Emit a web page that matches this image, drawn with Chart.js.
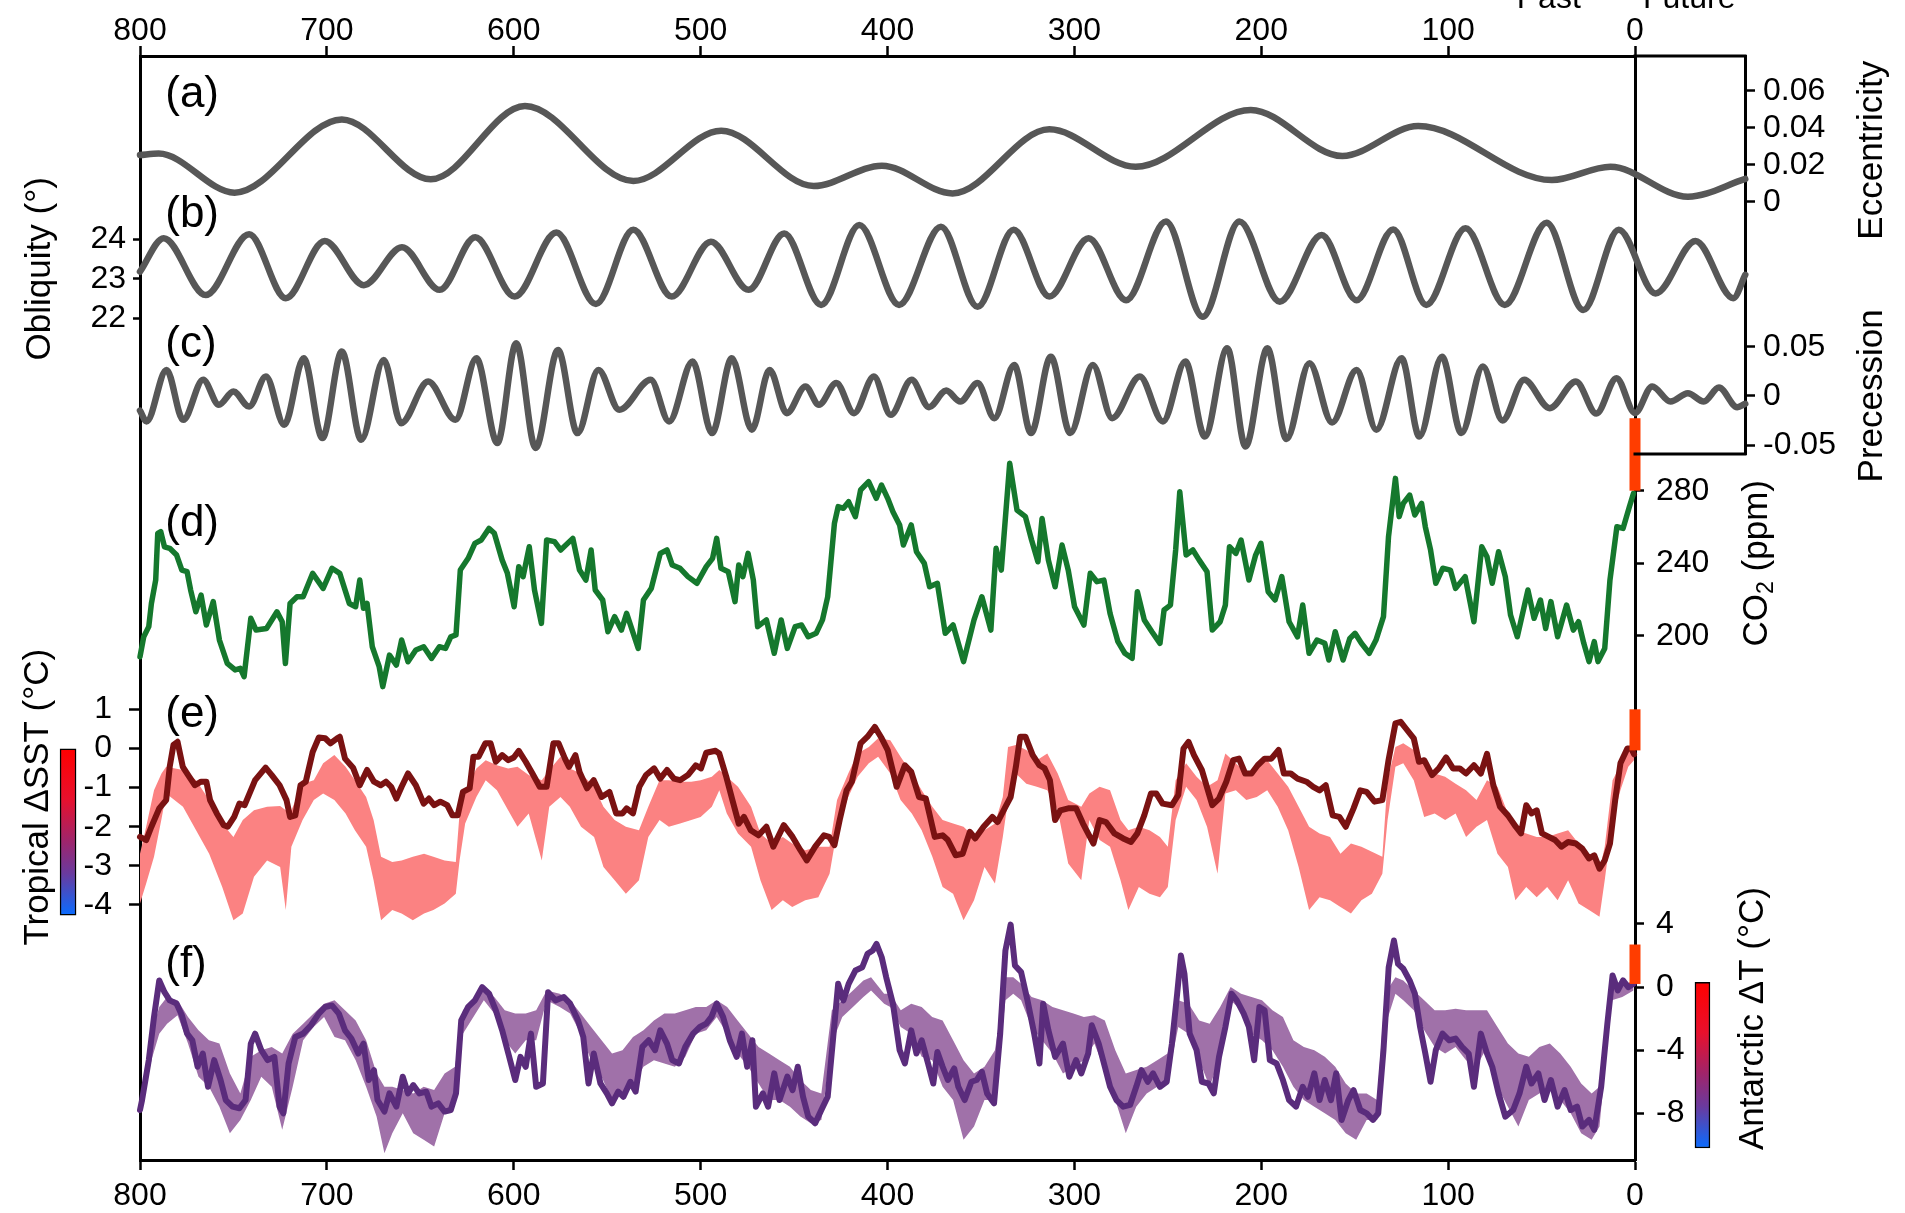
<!DOCTYPE html>
<html>
<head>
<meta charset="utf-8">
<script src="https://cdn.jsdelivr.net/npm/chart.js@4/dist/chart.umd.min.js"></script>
<style>
  html, body { margin: 0; padding: 0; background: #fff; }
  #wrap { width: 1905px; height: 1213px; }
</style>
</head>
<body>
<div id="wrap"><canvas id="chart" width="1905" height="1213"></canvas></div>
<script>
// ---- data (kyr before present, value) ----
const yearTicks = [800, 700, 600, 500, 400, 300, 200, 100, 0];
const eccTicks = [0.06, 0.04, 0.02, 0];
const oblTicks = [24, 23, 22];
const precTicks = [0.05, 0, -0.05];
const co2Ticks = [280, 240, 200];
const sstTicks = [1, 0, -1, -2, -3, -4];
const antTicks = [4, 0, -4, -8];

const eccSeries = [[800,0.0252],[790,0.026],[749.4,0.0049],[692,0.0445],[644.4,0.0121],[594,0.0517],[536,0.0112],[489,0.0384],[439.5,0.0085],[403,0.0195],[365.2,0.0045],[313.4,0.0391],[267.2,0.0189],[205.6,0.0496],[156.6,0.0247],[116,0.0409],[44.5,0.0117],[13.1,0.0189],[-28.3,0.0027],[-59,0.0123]];

const oblSeries = [[800,23.18],[787.3,24.03],[764.8,22.59],[741.6,24.13],[722,22.51],[701.2,23.96],[680.2,22.84],[659.8,23.8],[639.6,22.72],[620.6,24.05],[599.5,22.55],[577.2,24.17],[556.1,22.36],[536,24.24],[515.5,22.55],[494.5,23.94],[474.3,22.72],[455.3,24.15],[435.5,22.34],[415.1,24.36],[393.8,22.34],[371.4,24.32],[351.8,22.29],[332.5,24.24],[313.4,22.55],[292.4,24.03],[272.3,22.46],[251,24.45],[231.3,22.04],[211.7,24.45],[190.1,22.42],[167.7,24.11],[149,22.46],[129.4,24.25],[111.7,22.34],[90.7,24.28],[69.7,22.34],[47.3,24.42],[27.7,22.21],[8.7,24.24],[-11,22.63],[-32.4,23.96],[-52.6,22.51],[-59,23.1]];

const precSeries = [[800,-0.015],[796.5,-0.026],[785.8,0.0264],[776.9,-0.0244],[766.2,0.0163],[757.8,-0.0091],[750,0.0044],[741.6,-0.0109],[732.6,0.0196],[722.8,-0.0295],[712.4,0.0383],[702.4,-0.043],[692,0.045],[681.6,-0.0447],[669.6,0.0366],[660.3,-0.0278],[645.8,0.0146],[631.2,-0.0244],[620,0.0383],[608.8,-0.048],[598.7,0.0535],[588.3,-0.053],[576.3,0.0467],[565.9,-0.0379],[554.7,0.0264],[543.5,-0.0142],[526.7,0.0163],[516.9,-0.026],[504.3,0.0349],[493.9,-0.0379],[483.3,0.0383],[472.6,-0.0345],[463.1,0.0264],[453.9,-0.0176],[443.9,0.0095],[436.7,-0.0091],[427.4,0.013],[417.9,-0.0176],[407.3,0.0196],[398.3,-0.0193],[387.1,0.0163],[377.8,-0.0115],[368.6,0.0054],[361,-0.0058],[351.8,0.013],[342.8,-0.0227],[332.2,0.0315],[323.2,-0.0379],[312.6,0.0399],[302.2,-0.0379],[290.1,0.0315],[279.8,-0.0227],[265,0.0196],[252.6,-0.026],[240.6,0.0349],[230.2,-0.0413],[218.2,0.0484],[208.4,-0.0515],[196.7,0.0484],[186.5,-0.044],[174.2,0.0332],[162.1,-0.0271],[149,0.0264],[138.4,-0.0345],[124.9,0.0383],[115.4,-0.0413],[103.3,0.0399],[92.9,-0.0379],[81.4,0.0298],[70.9,-0.025],[59.3,0.0163],[45.6,-0.0125],[31.6,0.0146],[20.7,-0.018],[9.9,0.018],[0,-0.0176],[-9.2,0.0095],[-19,-0.0058],[-28.3,0.0027],[-36.8,-0.0058],[-44.9,0.0084],[-54.7,-0.0115],[-59,-0.0081]];

const co2Series = [[800,188.4],[798,199.4],[795.3,205],[793.9,217.8],[791.6,230.7],[790.5,256.5],[788.9,257.4],[786.9,249],[784.1,248.2],[780.4,244.5],[777.6,236.2],[774.8,235.3],[772.9,225.2],[770.1,213.2],[767.3,222.4],[764.5,205.9],[760.8,218.8],[757.5,197.6],[753.3,184.7],[749.1,181.1],[746.3,182],[744.3,177.4],[740.7,209.6],[737.9,203.1],[732.3,204],[726.7,213.2],[723.9,207.7],[722.2,184.7],[719.7,217.8],[716,221.5],[712.7,221.5],[707.6,234.4],[702,226.1],[697.3,237.2],[693.1,234.4],[688,217.8],[684.6,216],[682.4,230.7],[680.4,215.1],[678.5,217.8],[675.7,193.9],[672,182.9],[670.1,171.9],[666.5,189.3],[662.8,183.8],[660,197.6],[656.6,185.6],[652.4,192.1],[648.2,193.9],[644,187.5],[639.8,193.9],[636.5,193],[633.7,199.4],[630.9,200.4],[628.6,236.2],[624.4,242.7],[620.8,250.9],[617.4,252.8],[613.2,259.2],[610.4,256.5],[606.2,241.7],[603.4,234.4],[599.8,216],[597.3,238.1],[595,232.6],[591.7,249.1],[588.9,225.2],[585.2,206.8],[582.4,252.8],[578.2,251.9],[574.9,247.3],[568.4,253.7],[564.8,236.2],[561.4,230.7],[558.6,247.3],[556.4,225.2],[552.4,219.7],[549.6,202.2],[546,210.5],[542.4,203.1],[539.6,212.3],[533.4,193],[530.6,219.7],[526.4,226.1],[521.6,245.4],[518,247.3],[515.2,239],[511,237.2],[506.8,232.6],[502,228.9],[497,238.1],[493.6,242.7],[491.4,253.7],[489.1,237.2],[485.2,235.3],[481.6,218.8],[479.6,239],[477.4,232.6],[474.6,245.4],[471.8,230.7],[469.5,205],[464.8,208.7],[460.6,190.3],[456.9,208.7],[453.6,193],[449.4,205],[446,205.9],[442.4,199.4],[438.2,201.3],[434.8,208.7],[432,221.5],[428.4,262],[426.4,271.2],[423.6,270.3],[420.8,273.9],[417.2,265.7],[414.4,280.4],[410.1,285],[406,275.8],[403.2,283.1],[399.9,275.8],[397.1,268.4],[393.5,261.1],[391.5,250],[387.3,261.1],[384.5,246.3],[380.3,239.9],[377.5,227],[373.3,228.9],[369.1,201.3],[364.9,205.9],[359.3,185.7],[353.7,208.7],[349.5,221.5],[344.7,203.1],[341.9,248.2],[339.1,236.2],[334.6,295.1],[330.7,269.3],[326.2,265.7],[322.9,252.8],[319.5,240.8],[317.3,264.7],[313.9,241.7],[310.3,227],[306.6,250],[303.3,236.2],[299.9,216],[294.9,205.9],[291.5,234.4],[287.9,229.8],[284.2,230.7],[280.9,212.3],[276.7,196.7],[273,190.3],[269.1,187.5],[266.3,224.3],[262.6,208.7],[258.5,202.2],[254.2,195.8],[252,214.2],[248.6,216.9],[245.8,247.3],[243.6,279.4],[240.2,244.5],[236.6,247.3],[233.2,241.7],[229,235.3],[226.2,203.1],[222,207.7],[219.2,216.9],[217,249.1],[213.6,245.4],[210.8,252.8],[206.6,230.7],[203,244.5],[200.2,251],[196.3,224.3],[192.6,219.7],[189,232.6],[185.1,207.7],[180.6,199.4],[177.8,216.9],[174.4,190.3],[170.2,197.6],[166,195.8],[163.8,186.6],[160.4,202.2],[156.2,186.6],[152.6,198.5],[149.8,201.3],[146.4,195.8],[142.2,190.3],[138.6,197.6],[134.6,210.5],[131.9,254.6],[128.2,286.8],[126.2,265.7],[124,273],[120.6,277.6],[117.8,266.6],[114.2,273],[112.2,260.1],[109.4,247.3],[106.6,228.9],[102.9,237.2],[98.8,236.2],[96,226.1],[90.9,232.6],[86.2,207.7],[82,249.1],[79.2,243.6],[76.4,228.9],[73,246.3],[69.4,232.6],[66.6,211.4],[63,199.4],[57.3,225.2],[54,209.6],[50.6,219.7],[47.8,204],[45,218.8],[41.4,199.4],[36.6,216.9],[33,203.1],[30.2,207.7],[27.4,195.8],[24.6,185.7],[21.8,196.7],[19.8,185.7],[16.2,193],[13.4,230.7],[9.7,260.1],[6.4,259.2],[3,271.2],[0.8,278.5]];

const sstSeries = [[800,-2.26],[796.7,-2.34],[793.9,-2.0],[789.7,-1.53],[786,-1.32],[784.1,-0.47],[782.1,0.09],[779.9,0.17],[777.1,-0.47],[773.7,-0.72],[770.6,-0.94],[767.3,-0.85],[764.5,-0.85],[762.5,-1.32],[758.9,-1.66],[755.2,-1.96],[753,-2.0],[749.6,-1.75],[746.8,-1.41],[744,-1.45],[738.4,-0.81],[732.8,-0.49],[729.5,-0.68],[725.3,-0.94],[721.6,-1.32],[719.7,-1.75],[716.9,-1.71],[714.1,-0.94],[711.3,-0.85],[707.6,-0.09],[704.3,0.28],[700.9,0.26],[698.1,0.13],[694.5,0.26],[693.1,0.3],[690.3,-0.26],[686,-0.49],[682.4,-0.94],[678.5,-0.55],[674.8,-0.85],[671.2,-0.94],[668.4,-0.85],[665.6,-0.98],[662.8,-1.28],[660,-0.98],[656.6,-0.64],[652.4,-0.94],[648.2,-1.41],[645.4,-1.28],[642.6,-1.45],[639.3,-1.36],[635.6,-1.45],[632.8,-1.71],[630,-1.71],[627.2,-1.11],[623.6,-1.02],[621.6,-0.21],[618.8,-0.21],[615.2,0.13],[612.4,0.13],[609.6,-0.34],[606.2,-0.17],[602.9,-0.3],[600,-0.23],[597.3,-0.06],[593.6,-0.34],[590,-0.64],[586.1,-0.98],[582.4,-0.98],[578.8,0.13],[576,0.13],[572.6,-0.26],[570.4,-0.47],[567,-0.17],[564.8,-0.6],[560.8,-1.02],[557.2,-0.81],[553,-1.24],[548.8,-1.11],[545.2,-1.66],[541.8,-1.66],[539.6,-1.53],[536.2,-1.66],[532.8,-0.98],[529.2,-0.68],[524.9,-0.51],[521.6,-0.77],[518,-0.55],[514.3,-0.77],[511,-0.81],[506.8,-0.68],[502.6,-0.43],[499.8,-0.51],[497,-0.11],[492,-0.06],[490,-0.13],[486.3,-0.72],[483,-1.32],[479.6,-1.92],[476.8,-1.75],[473.2,-2.09],[469,-2.22],[464.8,-2.0],[461.1,-2.51],[455.5,-1.96],[450.8,-2.26],[446.6,-2.6],[443.2,-2.86],[438.7,-2.51],[434,-2.22],[431.2,-2.26],[428.4,-2.47],[425.6,-1.83],[421.9,-1.07],[419.1,-0.85],[414.4,0.13],[410.7,0.3],[406.8,0.55],[403.1,0.26],[399.9,-0.04],[395.1,-0.98],[390.7,-0.43],[387.3,-0.6],[383.1,-1.24],[379.5,-1.28],[374.7,-2.26],[370.5,-2.22],[367.7,-2.34],[363.5,-2.73],[359.8,-2.69],[355.9,-2.13],[353.1,-2.3],[348.6,-2.0],[343.9,-1.75],[341.1,-1.88],[336.9,-1.49],[334.1,-1.24],[331.3,-0.47],[329,0.3],[326.2,0.3],[322.3,-0.17],[318.7,-0.43],[315.9,-0.51],[313.1,-0.81],[310.3,-1.83],[307.5,-1.58],[303.3,-1.53],[299.1,-1.53],[295.4,-1.92],[289.8,-2.43],[286.5,-1.83],[283.1,-1.88],[278.6,-2.17],[273.9,-2.3],[269.7,-2.39],[266.3,-2.17],[262.6,-1.71],[259,-1.15],[256.2,-1.15],[252.8,-1.41],[247.8,-1.45],[244.4,-1.19],[241.6,0.0],[238.9,0.17],[236,-0.17],[231.8,-0.55],[226.2,-1.45],[222.6,-1.28],[218.7,-0.85],[215,-0.3],[211.9,-0.26],[208.6,-0.64],[205.2,-0.64],[201.9,-0.43],[198.2,-0.26],[194.6,-0.26],[190.7,-0.04],[187.9,-0.64],[184.2,-0.64],[180.6,-0.77],[175.8,-0.85],[172.2,-0.98],[168.8,-1.07],[165.5,-0.94],[161.8,-1.71],[158.2,-1.75],[154.8,-2.0],[150.6,-1.53],[147,-1.07],[143.6,-1.11],[139.4,-1.36],[135.2,-1.32],[131.9,-0.3],[128.2,0.64],[125.4,0.68],[122.6,0.51],[118.4,0.26],[115.6,-0.34],[112.8,-0.3],[108.6,-0.68],[105,-0.51],[101.1,-0.23],[97.4,-0.51],[93.8,-0.51],[90.4,-0.64],[86.2,-0.43],[82.5,-0.64],[79.2,-0.14],[75.8,-0.94],[72.2,-1.49],[68,-1.71],[63.8,-2.0],[61,-2.17],[58.2,-1.45],[55.4,-1.66],[52.6,-1.58],[49.8,-2.17],[46.1,-2.26],[42.8,-2.34],[39.4,-2.51],[35.8,-2.39],[31.6,-2.43],[28.2,-2.56],[24.6,-2.81],[21.8,-2.73],[19,-3.07],[16.2,-2.86],[13.4,-2.43],[10.6,-1.32],[7.8,-0.38],[4.1,0.0],[2,0.0],[0.5,-0.15]];

// [kyr, upper, lower]
const sstRange = [[800,-2.69,-3.96],[796.7,-2.0,-3.45],[792.5,-1.07,-2.77],[788.5,-0.64,-1.8],[786,-0.47,-1.15],[777,-0.55,-1.49],[770,-0.81,-2.09],[763,-1.32,-2.69],[756,-1.92,-3.54],[750,-2.26,-4.39],[745,-1.83,-4.22],[739,-1.58,-3.28],[732,-1.49,-2.86],[725,-1.47,-3.03],[722,-1.58,-4.13],[719,-1.58,-2.51],[713,-0.9,-1.83],[707,-0.81,-1.32],[702,-0.38,-1.15],[696,-0.17,-1.32],[690,-0.47,-1.66],[685,-0.81,-2.09],[679,-1.24,-2.51],[675,-1.83,-3.37],[671,-2.77,-4.39],[665,-2.9,-4.13],[660,-2.86,-4.22],[654,-2.77,-4.39],[648,-2.69,-4.22],[643,-2.77,-4.13],[637,-2.86,-3.96],[631,-2.9,-3.71],[629,-1.66,-2.86],[626,-1.07,-1.92],[620,-0.51,-1.24],[615,-0.3,-0.81],[609,-0.43,-1.07],[603,-0.51,-1.58],[598,-0.47,-2.0],[592,-0.68,-1.66],[585,-0.81,-2.86],[581,-0.55,-1.49],[575,-0.21,-1.24],[570,-0.51,-1.49],[564,-0.64,-2.0],[557,-0.98,-2.26],[552,-1.49,-3.03],[546,-1.83,-3.37],[540,-2.0,-3.71],[533,-2.09,-3.37],[528,-1.49,-2.26],[522,-0.81,-1.83],[517,-0.81,-2.0],[511,-0.85,-1.92],[505,-0.85,-1.83],[500,-0.81,-1.75],[494,-0.72,-1.49],[490,-0.55,-1.07],[486,-0.72,-1.66],[480,-0.98,-2.17],[473,-1.49,-2.51],[468,-2.17,-3.37],[462,-2.43,-4.13],[456,-2.26,-3.88],[451,-2.43,-4.05],[444,-2.6,-3.88],[437,-2.51,-3.8],[431,-2.51,-3.2],[427,-1.32,-2.09],[421,-0.64,-1.24],[416,-0.13,-0.72],[410,0.04,-0.38],[405,0.26,-0.21],[398.5,0.21,-0.64],[393,-0.21,-1.32],[387,-0.64,-1.66],[381.7,-1.07,-2.09],[376,-1.49,-2.77],[370.5,-1.83,-3.54],[364.9,-1.92,-3.71],[359.3,-2.0,-4.39],[353.7,-2.26,-3.88],[348.1,-2.09,-3.03],[342.5,-1.92,-3.45],[338.3,-1.24,-2.26],[335.5,0.04,-1.32],[331.3,0.09,-0.64],[325.7,-0.04,-0.9],[320.1,-0.3,-0.98],[314.5,-0.13,-1.07],[308.9,-0.64,-1.58],[303.3,-1.32,-2.94],[296.3,-1.49,-3.37],[292,-1.15,-1.83],[286.5,-0.98,-2.34],[280.9,-1.07,-2.51],[275.3,-1.83,-3.37],[271.1,-2.09,-4.13],[265.5,-2.0,-3.54],[259.8,-2.09,-3.71],[254.2,-2.26,-3.8],[250,-2.51,-3.54],[245.8,-0.81,-1.83],[240.2,-0.38,-0.98],[234.6,-0.72,-1.32],[229,-0.98,-2.0],[223.4,-0.81,-3.2],[219.2,-0.13,-1.15],[213.6,-0.38,-1.07],[208,-0.64,-1.32],[202.4,-0.47,-1.24],[196.8,-0.3,-1.07],[191.2,-0.64,-1.49],[185.6,-0.98,-2.09],[180,-1.49,-3.03],[174.4,-2.0,-4.13],[168.8,-2.17,-3.8],[163.2,-2.26,-3.88],[157.6,-2.69,-4.05],[152,-2.43,-4.22],[146.4,-2.51,-3.88],[140.8,-2.64,-3.71],[135.2,-2.77,-3.2],[132.4,-0.81,-1.83],[128.2,0.04,-0.47],[124,0.13,-0.38],[118.4,-0.04,-0.81],[112.8,-0.38,-1.75],[107.2,-0.64,-1.66],[101.6,-0.72,-1.83],[96,-0.9,-1.66],[90.4,-1.07,-2.26],[84.8,-1.32,-2.0],[79.2,-0.81,-1.83],[73.6,-0.98,-2.69],[68,-1.66,-3.03],[64,-2.09,-3.88],[58.2,-2.17,-3.54],[52.6,-2.26,-3.8],[47,-2.26,-3.54],[41.4,-2.17,-3.88],[35.8,-2.09,-3.37],[30.2,-2.43,-3.96],[24.6,-2.69,-4.13],[19,-3.11,-4.3],[16.2,-2.51,-3.37],[12,-0.81,-1.83],[7.8,-0.43,-1.07],[3.6,0,-0.47],[0.5,0.05,-0.3]];

const antSeries = [[800,-7.79],[798.9,-7.16],[795.3,-4.63],[792.5,-1.89],[789.7,0.42],[786.9,-0.32],[784.1,-0.84],[780.4,-1.05],[777.6,-1.79],[774.8,-2.95],[772,-3.37],[769.2,-5.05],[766.4,-4.21],[763.6,-6.32],[760.3,-4.63],[756.9,-5.89],[754.1,-7.16],[750.5,-7.58],[746.8,-7.68],[743.5,-7.16],[740.7,-3.58],[738.4,-2.95],[735.1,-4.0],[731.7,-4.63],[728.1,-4.42],[725.3,-7.58],[723.3,-8.0],[720.5,-4.84],[716.9,-3.16],[712.7,-2.95],[708.5,-2.42],[704.3,-1.68],[700.9,-1.26],[697.3,-1.16],[693.6,-1.68],[690.3,-2.74],[686.9,-3.26],[683.2,-4.21],[680.4,-3.58],[677.6,-5.89],[674.8,-5.26],[672.9,-7.16],[669.2,-7.89],[666.5,-6.74],[662.8,-7.58],[659.4,-5.68],[656.6,-6.74],[653.8,-6.21],[650.5,-6.74],[646.8,-6.63],[644,-7.58],[640.4,-7.37],[637,-7.89],[633.7,-7.79],[630.9,-6.74],[628.1,-2.11],[624.4,-1.26],[620.8,-0.84],[616.9,0.0],[613.2,-0.42],[609.6,-1.47],[606.2,-2.74],[602.9,-4.21],[599.2,-5.89],[596.4,-4.42],[593.6,-5.05],[590.8,-2.95],[588,-6.32],[584.4,-6.11],[581.6,-0.32],[577.7,-0.84],[573.2,-0.63],[569.8,-1.05],[565.6,-2.11],[562.8,-3.16],[560,-6.11],[557.2,-4.21],[553.6,-6.11],[550.2,-6.74],[547.4,-7.37],[544.1,-6.63],[541.3,-6.95],[537.6,-6.0],[534.8,-6.63],[531.2,-3.79],[527.8,-3.37],[524.4,-4.0],[521.6,-2.74],[518,-3.58],[515.2,-4.63],[511.6,-4.84],[508.2,-3.79],[504,-2.95],[500.4,-2.53],[497,-2.32],[494.2,-1.89],[491.4,-1.05],[488,-1.89],[484.4,-3.37],[480.7,-4.42],[477.9,-2.95],[475.1,-5.05],[472.3,-3.37],[470.4,-7.58],[466.7,-6.74],[463.9,-7.58],[460.6,-5.47],[457.8,-7.16],[453.6,-5.68],[450.8,-6.53],[448,-5.05],[445.2,-6.95],[442.4,-8.21],[438.7,-8.63],[435.4,-7.79],[432,-6.95],[429.2,-3.37],[426.4,0.21],[423.6,-0.84],[420.8,0.21],[417.2,1.05],[413.5,1.26],[410.7,2.11],[407.9,2.32],[405.9,2.74],[403.1,1.89],[400.7,0.63],[397.1,-1.05],[393.5,-4.0],[390.7,-4.84],[387.3,-2.74],[384.5,-4.21],[381.7,-3.37],[378.3,-4.84],[375.5,-6.11],[373.3,-4.11],[370.5,-5.05],[367.7,-5.89],[364.3,-5.16],[362.1,-6.32],[358.7,-7.16],[355.1,-6.0],[352.3,-5.89],[349.5,-5.37],[346.7,-6.74],[343,-7.37],[339.7,-2.95],[336.9,2.32],[334.1,3.96],[331.8,1.37],[328.5,0.95],[325.1,-0.84],[321.5,-2.95],[318.7,-4.84],[316.7,-1.05],[313.9,-2.74],[310.3,-4.42],[306.1,-3.58],[302.7,-5.68],[299.1,-4.63],[296.3,-5.47],[292.6,-4.21],[290.7,-2.42],[287,-3.58],[283.7,-5.05],[280.9,-6.32],[277.5,-7.16],[273.9,-7.58],[270.2,-7.47],[266.9,-6.32],[264.1,-5.26],[260.7,-6.0],[257.9,-5.47],[254.2,-6.32],[250.6,-6.0],[247.8,-3.58],[245,-0.42],[243,2.0],[241.1,0.84],[238.3,-2.95],[234.6,-4.0],[231.8,-6.0],[228.2,-6.11],[225.4,-6.74],[222.6,-4.42],[219.2,-2.53],[215.9,-0.42],[213.1,-0.84],[209.4,-1.68],[206.6,-2.53],[203.8,-4.63],[201,-1.26],[198.2,-1.47],[195.4,-4.63],[191.8,-4.84],[188.4,-5.89],[185.1,-7.16],[181.4,-7.58],[177.8,-6.32],[175,-6.95],[171.6,-5.47],[168.8,-7.16],[166,-5.89],[162.7,-7.16],[159.9,-5.47],[157,-8.42],[153.4,-7.16],[150.6,-6.53],[147,-7.79],[143.6,-8.0],[140.2,-8.42],[137.4,-8.0],[134.6,-4.0],[131.8,1.26],[129,2.95],[126.8,1.47],[124,1.16],[120.6,0.42],[117.8,-0.42],[115,-2.53],[112.2,-4.21],[109.4,-6.0],[106.6,-4.0],[103,-2.95],[99.4,-3.37],[96,-3.26],[92.6,-3.79],[89,-4.21],[86.2,-6.32],[82.5,-2.95],[79.2,-4.21],[76.4,-5.05],[73,-6.74],[69.4,-8.21],[65.2,-7.79],[61.8,-6.74],[58.2,-5.05],[55.4,-6.11],[51.7,-5.47],[48.4,-7.16],[45,-5.89],[41.4,-7.58],[37.7,-6.53],[34.4,-7.79],[31,-7.58],[28.2,-8.84],[24.6,-8.42],[21.8,-9.05],[18.1,-6.32],[14.8,-2.32],[12,0.74],[9.2,-0.21],[6.4,0.42],[3.6,0.0],[0.8,0.21]];

// [kyr, upper, lower]
const antRange = [[799.5,-7.16,-8.0],[793.9,-2.95,-4.63],[789.7,-1.26,-2.95],[785.5,-0.63,-2.32],[779.9,-0.84,-1.79],[774.3,-1.89,-3.58],[768.7,-2.74,-5.68],[763.1,-3.37,-6.32],[757.5,-3.58,-7.58],[751.9,-5.47,-9.26],[746.3,-6.74,-8.42],[740.7,-4.42,-7.16],[735.1,-4.0,-5.68],[729.5,-3.79,-6.32],[723.9,-4.21,-9.05],[718.3,-2.95,-6.32],[712.7,-2.32,-3.37],[707.1,-1.68,-2.53],[701.5,-1.05,-1.89],[695.9,-0.84,-3.16],[690.3,-1.47,-3.37],[684.6,-2.11,-4.63],[679,-3.37,-6.32],[673.4,-5.47,-8.21],[669.2,-6.32,-10.53],[665,-6.32,-9.26],[659.4,-6.53,-8.0],[653.8,-6.74,-9.26],[648.2,-6.32,-9.68],[642.6,-6.53,-10.1],[637,-5.47,-8.0],[631.4,-5.05,-7.16],[627.2,-1.47,-2.95],[621.6,-0.84,-1.89],[616,-0.21,-0.84],[610.4,-0.63,-1.68],[604.8,-1.47,-3.37],[599.2,-1.68,-4.21],[593.6,-1.68,-3.37],[588,-1.47,-3.37],[582.4,-0.21,-0.84],[575.4,-0.42,-1.26],[569.8,-0.84,-1.68],[564.2,-1.68,-2.95],[558.6,-2.53,-4.63],[553,-3.37,-5.68],[547.4,-4.21,-7.16],[541.8,-4.0,-6.74],[536.2,-3.16,-6.32],[530.6,-2.74,-5.05],[525,-2.11,-4.63],[519.4,-1.68,-4.84],[513.8,-1.68,-5.05],[508.2,-1.47,-4.42],[502.6,-1.26,-2.95],[497,-1.26,-2.74],[491.4,-0.84,-1.89],[485.8,-1.26,-2.95],[480.2,-2.11,-4.21],[474.6,-2.95,-5.05],[469,-3.79,-6.11],[463.4,-4.21,-7.16],[457.8,-4.63,-7.16],[452.2,-5.05,-7.58],[446.6,-5.89,-8.21],[441,-6.53,-8.63],[435.4,-6.74,-8.42],[429.8,-1.47,-3.58],[424.2,-0.84,-1.89],[418.5,-0.21,-1.26],[412.9,0.42,-0.63],[408.8,0.63,-0.21],[401.8,-0.42,-1.05],[398.5,-0.42,-1.26],[392.9,-1.47,-2.53],[387.3,-1.05,-2.95],[381.7,-1.26,-4.42],[376.1,-1.89,-4.63],[370.5,-2.11,-6.32],[364.9,-3.37,-7.16],[359.3,-4.63,-9.68],[353.7,-5.47,-8.84],[348.1,-5.05,-7.16],[342.5,-4.0,-7.16],[336.9,0.63,-0.84],[332.7,0.63,-0.42],[328.5,0.21,-0.84],[322.9,-0.63,-2.53],[317.3,-0.84,-3.37],[311.7,-1.26,-4.21],[306.1,-1.47,-5.47],[300.5,-1.68,-5.05],[294.9,-1.89,-4.63],[289.3,-1.79,-3.58],[283.7,-2.11,-5.26],[278.1,-4.0,-7.16],[272.5,-5.47,-9.26],[266.9,-5.26,-7.58],[261.3,-5.05,-6.74],[255.7,-4.63,-6.32],[250.1,-4.21,-5.89],[244.4,-0.84,-2.53],[238.9,-1.05,-2.95],[233.2,-2.11,-4.63],[227.6,-2.32,-6.32],[222,-1.26,-4.42],[216.4,0.0,-0.84],[210.8,-0.42,-1.47],[205.2,-0.63,-2.95],[199.6,-0.84,-3.37],[194,-1.47,-4.0],[188.4,-1.89,-5.05],[182.8,-3.37,-6.32],[177.2,-3.79,-7.16],[171.6,-4.0,-7.58],[166,-4.42,-8.0],[160.4,-5.05,-8.42],[154.8,-6.11,-9.26],[149.2,-6.74,-9.68],[143.6,-6.74,-8.42],[138,-7.16,-8.42],[133.8,-0.42,-2.53],[128.2,0.63,-0.42],[124,0.42,-0.84],[118.4,-0.21,-1.47],[112.8,-0.84,-2.74],[107.2,-1.47,-3.79],[101.6,-1.47,-4.21],[96,-1.37,-3.79],[90.4,-1.47,-4.63],[84.8,-1.47,-5.05],[79.2,-1.47,-3.79],[73.6,-2.53,-6.32],[68,-3.58,-7.58],[62.4,-4.21,-8.84],[56.8,-4.42,-7.16],[51.2,-3.79,-6.74],[45.6,-3.58,-6.32],[40,-4.21,-7.16],[34.4,-5.05,-8.0],[28.8,-6.11,-9.26],[23.2,-6.74,-9.68],[19,-6.32,-8.84],[15.2,-2.11,-4.0],[12.4,0.42,-0.84],[6.8,0.21,-0.63],[0.8,0.32,-0.21]];

// present-day markers at year 0 (low, high)
const modernCo2 = [280, 320];
const modernSst = [-0.05, 1.0];
const modernAnt = [0.2, 2.7];

// colour-scale ranges (axis units)
const sstScaleRange = [-4.26, 0];
const antScaleRange = [-10.2, 0.3];

const pastFutureLabel = 'Past       Future  ';

// ---- styling and layout ----
const FAMILY = '"Liberation Sans", Arial, Helvetica, sans-serif';
const TICK_FONT = {family: FAMILY, size: 32, lineHeight: 1};
const ORBIT_GREY = '#575757';
const MODERN_RED = '#ff3d00';
const COLORBAR_STOPS = [[0, '#ff0000'], [0.3, '#e8102c'], [0.55, '#a0246a'], [0.75, '#6a3a9e'], [1, '#0a6cff']];

const STACK_WIDTH = {left: 140, future: 110, right: 160};

Chart.defaults.font.family = FAMILY;
Chart.defaults.color = '#000';

const setTicks = values => s => { s.ticks = values.map(v => ({value: v})); };

function panelAxis(o) {
  return {
    type: 'linear', axis: 'y', position: o.position, stack: o.stack, stackWeight: o.slot, weight: o.order,
    min: o.range[0], max: o.range[1], beginAtZero: false, offset: false,
    afterBuildTicks: setTicks(o.ticks),
    afterFit: s => { s.width = STACK_WIDTH[o.stack]; },
    grid: {display: true, drawOnChartArea: false, drawTicks: true, offset: false, tickLength: o.tickLength, tickWidth: 2.5, tickColor: '#000', color: '#000'},
    border: {display: true, color: '#000', width: 3},
    ticks: {font: TICK_FONT, color: '#000', padding: o.pad, autoSkip: false, callback: v => String(v)},
    title: {display: false}
  };
}

function spacerAxis(position, stack, order, slot, showBorder) {
  return {
    type: 'linear', axis: 'y', position, stack, stackWeight: slot, weight: order,
    min: 0, max: 1,
    afterFit: s => { s.width = STACK_WIDTH[stack]; },
    grid: {display: false},
    border: {display: showBorder, color: '#000', width: 3},
    ticks: {display: false},
    title: {display: false}
  };
}

function yearAxis(position, height, pad, labelFn) {
  return {
    type: 'linear', position, min: 0, max: 800, reverse: true, offset: false,
    afterBuildTicks: setTicks(yearTicks),
    afterFit: s => { s.height = height; },
    grid: {display: true, drawOnChartArea: false, offset: false, tickLength: 10, tickWidth: 2.5, tickColor: '#000', color: '#000'},
    border: {display: true, color: '#000', width: 3},
    ticks: {font: TICK_FONT, color: '#000', padding: pad, autoSkip: false, maxRotation: 0, minRotation: 0, callback: labelFn}
  };
}

const xy = (rows, i = 1) => rows.map(r => ({x: r[0], y: r[i]}));

function curve(rows, yAxisID, color, width, smooth) {
  return {
    type: 'line', data: xy(rows), xAxisID: 'x', yAxisID,
    borderColor: color, borderWidth: width, pointRadius: 0, fill: false,
    tension: 0, cubicInterpolationMode: smooth ? 'monotone' : 'default',
    borderJoinStyle: 'round', borderCapStyle: 'round', clip: false
  };
}

function rangeEdge(rows, i, yAxisID, color, fillTarget) {
  return {
    type: 'line', data: xy(rows, i), xAxisID: 'x', yAxisID,
    borderColor: 'rgba(0,0,0,0)', borderWidth: 0, pointRadius: 0, tension: 0,
    fill: fillTarget, backgroundColor: color, clip: false
  };
}

function modernMark(range, yAxisID) {
  return {
    type: 'line', data: [{x: 0, y: range[0]}, {x: 0, y: range[1]}], xAxisID: 'x', yAxisID,
    borderColor: MODERN_RED, borderWidth: 11, borderCapStyle: 'butt', pointRadius: 0, fill: false, clip: false
  };
}

const scaleGradient = (axisId, range) => c => {
  const chart = c.chart, s = chart.scales[axisId];
  if (!s || !chart.chartArea) return COLORBAR_STOPS[0][1];
  const g = chart.ctx.createLinearGradient(0, s.getPixelForValue(range[1]), 0, s.getPixelForValue(range[0]));
  COLORBAR_STOPS.forEach(([p, col]) => g.addColorStop(p, col));
  return g;
};

function colorScale(year, range, yAxisID, thickness) {
  return {
    type: 'bar', data: [{x: year, y: range}], xAxisID: 'x', yAxisID,
    barThickness: thickness, grouped: false, borderColor: '#000', borderWidth: 1.5, borderSkipped: false,
    backgroundColor: scaleGradient(yAxisID, range), clip: false
  };
}

// text decorations: panel letters, axis titles, frame of the "future" box
const PANEL_LETTERS = [['(a)', 'yEcc', 0.0577], ['(b)', 'yObl', 24.615], ['(c)', 'yPrec', 0.0517],
                       ['(d)', 'yCO2', 261.6], ['(e)', 'ySST', 0.854], ['(f)', 'yAnt', 1.40]];
const AXIS_TITLES = [
  {axis: 'yObl', side: 'left', dx: 40, dy: -10, ticks: oblTicks, parts: [['Obliquity (°)', 35, 0]]},
  {axis: 'ySST', side: 'left', dx: 38, dy: -10, ticks: sstTicks, parts: [['Tropical ΔSST (°C)', 35, 0]]},
  {axis: 'yEcc', side: 'right', dx: -33, dy: 4, ticks: eccTicks, parts: [['Eccentricity', 35, 0]]},
  {axis: 'yPrec', side: 'right', dx: -33, dy: 0, ticks: precTicks, parts: [['Precession', 35, 0]]},
  {axis: 'yCO2', side: 'right', dx: 12, dy: 0, ticks: co2Ticks, parts: [['CO', 35, 0], ['2', 23, 10], [' (ppm)', 35, 0]]},
  {axis: 'yAnt', side: 'right', dx: 8, dy: 0, ticks: antTicks, parts: [['Antarctic ΔT (°C)', 35, 0]]}
];

const decorations = {
  id: 'decorations',
  afterDraw(chart) {
    const {ctx, chartArea, scales} = chart;
    const xs = scales.x;
    const x0 = xs.getPixelForValue(0);
    ctx.save();
    ctx.strokeStyle = '#000';
    ctx.lineWidth = 3;
    ctx.lineCap = 'square';
    ctx.beginPath();
    ctx.moveTo(x0, chartArea.top);
    ctx.lineTo(scales.yEcc.left, chartArea.top);
    ctx.moveTo(x0, scales.yPrec.bottom);
    ctx.lineTo(scales.yPrec.left, scales.yPrec.bottom);
    ctx.stroke();

    ctx.fillStyle = '#000';
    ctx.font = '44px ' + FAMILY;
    ctx.textAlign = 'left';
    ctx.textBaseline = 'middle';
    const letterX = xs.getPixelForValue(786.5);
    PANEL_LETTERS.forEach(([t, axis, v]) => ctx.fillText(t, letterX, scales[axis].getPixelForValue(v)));

    AXIS_TITLES.forEach(t => {
      const s = scales[t.axis];
      const y = (s.getPixelForValue(t.ticks[0]) + s.getPixelForValue(t.ticks[t.ticks.length - 1])) / 2 + t.dy;
      const x = (t.side === 'left' ? s.left : s.right) + t.dx;
      let total = 0;
      t.parts.forEach(([txt, size]) => { ctx.font = size + 'px ' + FAMILY; total += ctx.measureText(txt).width; });
      ctx.save();
      ctx.translate(x, y);
      ctx.rotate(-Math.PI / 2);
      let cx = -total / 2;
      t.parts.forEach(([txt, size, shift]) => {
        ctx.font = size + 'px ' + FAMILY;
        ctx.fillText(txt, cx, shift);
        cx += ctx.measureText(txt).width;
      });
      ctx.restore();
    });
    ctx.restore();
  }
};

new Chart(document.getElementById('chart'), {
  type: 'line',
  data: {
    datasets: [
      modernMark(modernCo2, 'yCO2'),
      modernMark(modernSst, 'ySST'),
      modernMark(modernAnt, 'yAnt'),
      curve(eccSeries, 'yEcc', ORBIT_GREY, 6.5, true),
      curve(oblSeries, 'yObl', ORBIT_GREY, 6.5, true),
      curve(precSeries, 'yPrec', ORBIT_GREY, 6.5, true),
      curve(co2Series, 'yCO2', '#15782d', 5.5, false),
      curve(sstSeries, 'ySST', '#7a1212', 6, false),
      curve(antSeries, 'yAnt', '#5a2c7c', 6, false),
      rangeEdge(sstRange, 1, 'ySST', '#fb8282', '+1'),
      rangeEdge(sstRange, 2, 'ySST', '#fb8282', false),
      rangeEdge(antRange, 1, 'yAnt', '#a071a9', '+1'),
      rangeEdge(antRange, 2, 'yAnt', '#a071a9', false),
      colorScale(838.5, sstScaleRange, 'ySST', 16),
      colorScale(-36.1, antScaleRange, 'yAnt', 15)
    ]
  },
  options: {
    responsive: false,
    devicePixelRatio: 1,
    animation: false,
    events: [],
    layout: {padding: 0},
    plugins: {legend: {display: false}, tooltip: {enabled: false}},
    scales: {
      x: yearAxis('bottom', 53, 10, v => String(v)),
      xTop: yearAxis('top', 56, -1, v => (v === 0 ? [pastFutureLabel, '0'] : String(v))),
      // left stack (top to bottom by weight, descending)
      fL0: spacerAxis('left', 'left', 5, 129, true),
      yObl: panelAxis({position: 'left', stack: 'left', order: 4, slot: 170, range: [21.071, 25.375], ticks: oblTicks, tickLength: 7, pad: 7}),
      fL1: spacerAxis('left', 'left', 3, 325, true),
      ySST: panelAxis({position: 'left', stack: 'left', order: 2, slot: 234, range: [-4.23, 1.749], ticks: sstTicks, tickLength: 11, pad: 17}),
      fL2: spacerAxis('left', 'left', 1, 246, true),
      // right stack at year 0
      fR0: spacerAxis('right', 'future', 1, 399, true),
      yCO2: panelAxis({position: 'right', stack: 'future', order: 2, slot: 217, range: [179.97, 299.7], ticks: co2Ticks, tickLength: 9, pad: 12}),
      fR1: spacerAxis('right', 'future', 3, 208, true),
      yAnt: panelAxis({position: 'right', stack: 'future', order: 4, slot: 280, range: [-10.96, 6.789], ticks: antTicks, tickLength: 9, pad: 12}),
      // outer right stack
      yEcc: panelAxis({position: 'right', stack: 'right', order: 5, slot: 184, range: [-0.0207, 0.07876], ticks: eccTicks, tickLength: 10, pad: 8}),
      yPrec: panelAxis({position: 'right', stack: 'right', order: 6, slot: 214, range: [-0.05915, 0.15855], ticks: precTicks, tickLength: 10, pad: 8}),
      fR2: spacerAxis('right', 'right', 7, 706, false)
    }
  },
  plugins: [decorations]
});
</script>
</body>
</html>
